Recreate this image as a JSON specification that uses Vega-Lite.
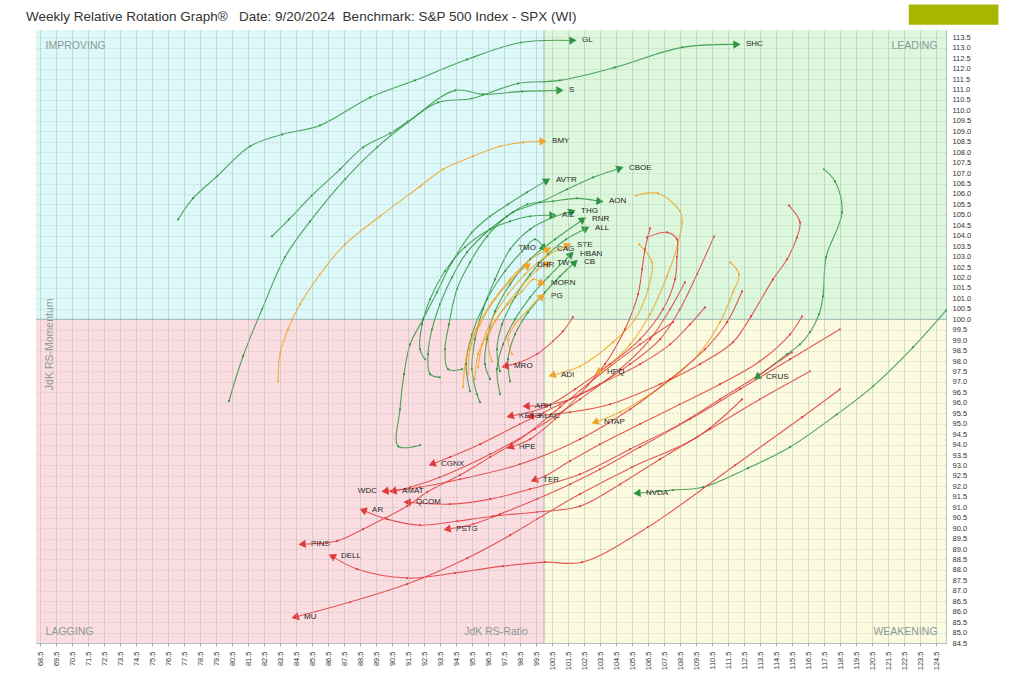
{
"$schema": "https://vega.github.io/schema/vega-lite/v6.json",
"width": 910, "height": 613,
"autosize": {"type": "none"},
"padding": {"left": 36, "top": 30, "right": 78, "bottom": 55},
"background": "white",
"title": {"text": "Weekly Relative Rotation Graph®\u00a0\u00a0\u00a0Date: 9/20/2024\u00a0\u00a0Benchmark: S&P 500 Index - SPX (WI)", "anchor": "start", "frame": "group", "dx": -10, "dy": 25, "offset": 6, "font": "Liberation Sans", "fontSize": 13.5, "fontWeight": "normal", "color": "#333333"},
"config": {"view": {"stroke": "#b3c4c0"}, "font": "Liberation Sans"},
"datasets": {"tr": [
{"s":"GL","c":"g","t":1,"x":77.13,"y":104.78},{"s":"GL","c":"g","t":2,"x":78.06,"y":105.79},{"s":"GL","c":"g","t":3,"x":79.56,"y":106.84},{"s":"GL","c":"g","t":4,"x":81.63,"y":108.28},{"s":"GL","c":"g","t":5,"x":83.63,"y":108.85},{"s":"GL","c":"g","t":6,"x":86.0,"y":109.28},{"s":"GL","c":"g","t":7,"x":89.13,"y":110.62},{"s":"GL","c":"g","t":8,"x":91.94,"y":111.44},{"s":"GL","c":"g","t":9,"x":95.19,"y":112.44},{"s":"GL","c":"g","t":10,"x":98.56,"y":113.25},{"s":"GL","c":"g","t":11,"x":101.81,"y":113.35},
{"s":"SHC","c":"g","t":1,"x":83.0,"y":103.97},{"s":"SHC","c":"g","t":2,"x":84.06,"y":104.78},{"s":"SHC","c":"g","t":3,"x":85.5,"y":105.93},{"s":"SHC","c":"g","t":4,"x":87.25,"y":107.18},{"s":"SHC","c":"g","t":5,"x":88.69,"y":108.23},{"s":"SHC","c":"g","t":6,"x":90.38,"y":108.9},{"s":"SHC","c":"g","t":7,"x":91.5,"y":109.47},{"s":"SHC","c":"g","t":8,"x":93.38,"y":110.38},{"s":"SHC","c":"g","t":9,"x":95.5,"y":110.57},{"s":"SHC","c":"g","t":10,"x":98.38,"y":111.29},{"s":"SHC","c":"g","t":11,"x":101.0,"y":111.44},{"s":"SHC","c":"g","t":12,"x":104.44,"y":112.06},{"s":"SHC","c":"g","t":13,"x":108.63,"y":113.02},{"s":"SHC","c":"g","t":14,"x":112.06,"y":113.16},
{"s":"S","c":"g","t":1,"x":80.31,"y":96.08},{"s":"S","c":"g","t":2,"x":81.19,"y":98.23},{"s":"S","c":"g","t":3,"x":82.38,"y":100.48},{"s":"S","c":"g","t":4,"x":83.81,"y":102.97},{"s":"S","c":"g","t":5,"x":85.38,"y":104.69},{"s":"S","c":"g","t":6,"x":87.56,"y":106.7},{"s":"S","c":"g","t":7,"x":89.56,"y":108.23},{"s":"S","c":"g","t":8,"x":91.5,"y":109.43},{"s":"S","c":"g","t":9,"x":94.44,"y":110.96},{"s":"S","c":"g","t":10,"x":96.19,"y":110.77},{"s":"S","c":"g","t":11,"x":98.63,"y":110.91},{"s":"S","c":"g","t":12,"x":101.0,"y":110.96},
{"s":"BMY","c":"o","t":1,"x":83.38,"y":97.03},{"s":"BMY","c":"o","t":2,"x":83.5,"y":98.33},{"s":"BMY","c":"o","t":3,"x":84.0,"y":99.52},{"s":"BMY","c":"o","t":4,"x":84.75,"y":100.72},{"s":"BMY","c":"o","t":5,"x":86.0,"y":102.15},{"s":"BMY","c":"o","t":6,"x":87.56,"y":103.59},{"s":"BMY","c":"o","t":7,"x":89.75,"y":104.93},{"s":"BMY","c":"o","t":8,"x":92.25,"y":106.36},{"s":"BMY","c":"o","t":9,"x":93.69,"y":107.18},{"s":"BMY","c":"o","t":10,"x":95.56,"y":107.8},{"s":"BMY","c":"o","t":11,"x":97.25,"y":108.28},{"s":"BMY","c":"o","t":12,"x":98.69,"y":108.47},{"s":"BMY","c":"o","t":13,"x":99.94,"y":108.52},
{"s":"AVTR","c":"g","t":1,"x":92.25,"y":93.97},{"s":"AVTR","c":"g","t":2,"x":90.88,"y":93.92},{"s":"AVTR","c":"g","t":3,"x":91.0,"y":95.69},{"s":"AVTR","c":"g","t":4,"x":91.25,"y":97.37},{"s":"AVTR","c":"g","t":5,"x":91.63,"y":98.8},{"s":"AVTR","c":"g","t":6,"x":92.44,"y":100.0},{"s":"AVTR","c":"g","t":7,"x":93.31,"y":101.29},{"s":"AVTR","c":"g","t":8,"x":94.25,"y":102.73},{"s":"AVTR","c":"g","t":9,"x":95.5,"y":104.16},{"s":"AVTR","c":"g","t":10,"x":96.63,"y":104.93},{"s":"AVTR","c":"g","t":11,"x":97.75,"y":105.5},{"s":"AVTR","c":"g","t":12,"x":98.94,"y":106.08},{"s":"AVTR","c":"g","t":13,"x":100.19,"y":106.65},
{"s":"CBOE","c":"g","t":1,"x":93.5,"y":97.22},{"s":"CBOE","c":"g","t":2,"x":92.88,"y":97.37},{"s":"CBOE","c":"g","t":3,"x":92.75,"y":98.33},{"s":"CBOE","c":"g","t":4,"x":93.0,"y":99.52},{"s":"CBOE","c":"g","t":5,"x":93.5,"y":100.72},{"s":"CBOE","c":"g","t":6,"x":94.25,"y":102.01},{"s":"CBOE","c":"g","t":7,"x":95.19,"y":103.21},{"s":"CBOE","c":"g","t":8,"x":96.63,"y":104.31},{"s":"CBOE","c":"g","t":9,"x":98.06,"y":105.12},{"s":"CBOE","c":"g","t":10,"x":99.75,"y":105.6},{"s":"CBOE","c":"g","t":11,"x":101.44,"y":106.22},{"s":"CBOE","c":"g","t":12,"x":103.06,"y":106.79},{"s":"CBOE","c":"g","t":13,"x":104.75,"y":107.23},
{"s":"AON","c":"g","t":1,"x":94.88,"y":97.61},{"s":"AON","c":"g","t":2,"x":94.0,"y":97.61},{"s":"AON","c":"g","t":3,"x":93.81,"y":98.56},{"s":"AON","c":"g","t":4,"x":94.06,"y":99.76},{"s":"AON","c":"g","t":5,"x":94.56,"y":101.44},{"s":"AON","c":"g","t":6,"x":95.38,"y":102.73},{"s":"AON","c":"g","t":7,"x":96.44,"y":103.97},{"s":"AON","c":"g","t":8,"x":97.69,"y":104.93},{"s":"AON","c":"g","t":9,"x":98.94,"y":105.5},{"s":"AON","c":"g","t":10,"x":100.56,"y":105.65},{"s":"AON","c":"g","t":11,"x":102.06,"y":105.79},{"s":"AON","c":"g","t":12,"x":103.5,"y":105.65},
{"s":"THG","c":"g","t":1,"x":96.0,"y":96.03},{"s":"THG","c":"g","t":2,"x":95.81,"y":96.41},{"s":"THG","c":"g","t":3,"x":95.5,"y":97.61},{"s":"THG","c":"g","t":4,"x":95.69,"y":99.04},{"s":"THG","c":"g","t":5,"x":96.19,"y":100.48},{"s":"THG","c":"g","t":6,"x":96.94,"y":101.91},{"s":"THG","c":"g","t":7,"x":97.88,"y":103.35},{"s":"THG","c":"g","t":8,"x":99.13,"y":104.31},{"s":"THG","c":"g","t":9,"x":100.56,"y":104.88},{"s":"THG","c":"g","t":10,"x":101.75,"y":105.17},
{"s":"AIZ","c":"g","t":1,"x":92.56,"y":98.09},{"s":"AIZ","c":"g","t":2,"x":92.25,"y":98.56},{"s":"AIZ","c":"g","t":3,"x":92.38,"y":99.76},{"s":"AIZ","c":"g","t":4,"x":92.88,"y":100.96},{"s":"AIZ","c":"g","t":5,"x":93.81,"y":102.3},{"s":"AIZ","c":"g","t":6,"x":95.06,"y":103.45},{"s":"AIZ","c":"g","t":7,"x":96.63,"y":104.31},{"s":"AIZ","c":"g","t":8,"x":97.88,"y":104.69},{"s":"AIZ","c":"g","t":9,"x":99.13,"y":104.93},{"s":"AIZ","c":"g","t":10,"x":100.56,"y":104.98},
{"s":"RNR","c":"g","t":1,"x":96.63,"y":97.13},{"s":"RNR","c":"g","t":2,"x":96.31,"y":97.85},{"s":"RNR","c":"g","t":3,"x":96.44,"y":99.04},{"s":"RNR","c":"g","t":4,"x":96.94,"y":100.38},{"s":"RNR","c":"g","t":5,"x":97.88,"y":101.67},{"s":"RNR","c":"g","t":6,"x":99.13,"y":102.87},{"s":"RNR","c":"g","t":7,"x":100.69,"y":103.83},{"s":"RNR","c":"g","t":8,"x":102.44,"y":104.78},
{"s":"ALL","c":"g","t":1,"x":97.25,"y":97.51},{"s":"ALL","c":"g","t":2,"x":97.06,"y":98.56},{"s":"ALL","c":"g","t":3,"x":97.38,"y":99.76},{"s":"ALL","c":"g","t":4,"x":98.19,"y":101.05},{"s":"ALL","c":"g","t":5,"x":99.13,"y":102.15},{"s":"ALL","c":"g","t":6,"x":100.25,"y":103.11},{"s":"ALL","c":"g","t":7,"x":101.38,"y":103.83},{"s":"ALL","c":"g","t":8,"x":102.63,"y":104.35},
{"s":"TMO","c":"g","t":1,"x":95.38,"y":96.55},{"s":"TMO","c":"g","t":2,"x":95.13,"y":97.85},{"s":"TMO","c":"g","t":3,"x":95.5,"y":99.28},{"s":"TMO","c":"g","t":4,"x":96.44,"y":100.96},{"s":"TMO","c":"g","t":5,"x":97.56,"y":102.3},{"s":"TMO","c":"g","t":6,"x":98.63,"y":103.25},{"s":"TMO","c":"g","t":7,"x":99.44,"y":103.83},{"s":"TMO","c":"g","t":8,"x":100.0,"y":103.4},
{"s":"CAG","c":"o","t":1,"x":94.94,"y":96.75},{"s":"CAG","c":"o","t":2,"x":95.13,"y":98.09},{"s":"CAG","c":"o","t":3,"x":95.75,"y":99.52},{"s":"CAG","c":"o","t":4,"x":96.75,"y":100.81},{"s":"CAG","c":"o","t":5,"x":97.88,"y":101.91},{"s":"CAG","c":"o","t":6,"x":99.0,"y":102.78},{"s":"CAG","c":"o","t":7,"x":100.25,"y":103.35},
{"s":"STE","c":"o","t":1,"x":95.88,"y":97.7},{"s":"STE","c":"o","t":2,"x":96.13,"y":98.8},{"s":"STE","c":"o","t":3,"x":96.75,"y":100.0},{"s":"STE","c":"o","t":4,"x":97.75,"y":101.2},{"s":"STE","c":"o","t":5,"x":98.81,"y":102.15},{"s":"STE","c":"o","t":6,"x":100.06,"y":102.97},{"s":"STE","c":"o","t":7,"x":101.5,"y":103.55},
{"s":"HBAN","c":"g","t":1,"x":97.25,"y":96.41},{"s":"HBAN","c":"g","t":2,"x":97.06,"y":97.61},{"s":"HBAN","c":"g","t":3,"x":97.44,"y":98.8},{"s":"HBAN","c":"g","t":4,"x":98.19,"y":100.0},{"s":"HBAN","c":"g","t":5,"x":99.13,"y":101.05},{"s":"HBAN","c":"g","t":6,"x":100.25,"y":102.01},{"s":"HBAN","c":"g","t":7,"x":101.69,"y":103.11},
{"s":"CB","c":"g","t":1,"x":97.88,"y":97.03},{"s":"CB","c":"g","t":2,"x":97.75,"y":98.09},{"s":"CB","c":"g","t":3,"x":98.19,"y":99.28},{"s":"CB","c":"g","t":4,"x":99.0,"y":100.33},{"s":"CB","c":"g","t":5,"x":100.06,"y":101.29},{"s":"CB","c":"g","t":6,"x":101.0,"y":102.06},{"s":"CB","c":"g","t":7,"x":101.94,"y":102.73},
{"s":"TW","c":"o","t":1,"x":95.69,"y":97.13},{"s":"TW","c":"o","t":2,"x":95.88,"y":98.33},{"s":"TW","c":"o","t":3,"x":96.63,"y":99.52},{"s":"TW","c":"o","t":4,"x":97.69,"y":100.72},{"s":"TW","c":"o","t":5,"x":98.69,"y":101.67},{"s":"TW","c":"o","t":6,"x":99.56,"y":102.34},{"s":"TW","c":"o","t":7,"x":100.25,"y":102.68},
{"s":"DHR","c":"o","t":1,"x":95.25,"y":97.37},{"s":"DHR","c":"o","t":2,"x":95.38,"y":98.56},{"s":"DHR","c":"o","t":3,"x":96.0,"y":99.76},{"s":"DHR","c":"o","t":4,"x":96.94,"y":100.96},{"s":"DHR","c":"o","t":5,"x":97.88,"y":101.82},{"s":"DHR","c":"o","t":6,"x":98.5,"y":102.3},{"s":"DHR","c":"o","t":7,"x":99.0,"y":102.58},
{"s":"MORN","c":"o","t":1,"x":96.75,"y":97.99},{"s":"MORN","c":"o","t":2,"x":96.5,"y":98.95},{"s":"MORN","c":"o","t":3,"x":96.94,"y":99.9},{"s":"MORN","c":"o","t":4,"x":97.75,"y":100.72},{"s":"MORN","c":"o","t":5,"x":98.63,"y":101.34},{"s":"MORN","c":"o","t":6,"x":99.31,"y":101.91},{"s":"MORN","c":"o","t":7,"x":99.88,"y":101.72},
{"s":"PG","c":"o","t":1,"x":98.0,"y":98.33},{"s":"PG","c":"o","t":2,"x":97.75,"y":99.04},{"s":"PG","c":"o","t":3,"x":98.19,"y":99.76},{"s":"PG","c":"o","t":4,"x":98.94,"y":100.38},{"s":"PG","c":"o","t":5,"x":99.44,"y":100.81},{"s":"PG","c":"o","t":6,"x":99.88,"y":101.1},
{"s":"NVDA","c":"g","t":1,"x":125.13,"y":100.43},{"s":"NVDA","c":"g","t":2,"x":123.06,"y":98.66},{"s":"NVDA","c":"g","t":3,"x":120.56,"y":96.79},{"s":"NVDA","c":"g","t":4,"x":118.31,"y":95.45},{"s":"NVDA","c":"g","t":5,"x":115.38,"y":93.88},{"s":"NVDA","c":"g","t":6,"x":112.75,"y":92.87},{"s":"NVDA","c":"g","t":7,"x":109.94,"y":91.96},{"s":"NVDA","c":"g","t":8,"x":108.06,"y":91.82},{"s":"NVDA","c":"g","t":9,"x":105.81,"y":91.67},
{"s":"CRUS","c":"g","t":1,"x":117.5,"y":107.18},{"s":"CRUS","c":"g","t":2,"x":118.19,"y":106.6},{"s":"CRUS","c":"g","t":3,"x":118.63,"y":105.12},{"s":"CRUS","c":"g","t":4,"x":117.63,"y":102.97},{"s":"CRUS","c":"g","t":5,"x":117.44,"y":101.1},{"s":"CRUS","c":"g","t":6,"x":117.19,"y":100.24},{"s":"CRUS","c":"g","t":7,"x":116.63,"y":99.38},{"s":"CRUS","c":"g","t":8,"x":116.0,"y":98.8},{"s":"CRUS","c":"g","t":9,"x":115.19,"y":98.33},{"s":"CRUS","c":"g","t":10,"x":113.31,"y":97.22},
{"s":"MRO","c":"r","t":1,"x":101.81,"y":100.1},{"s":"MRO","c":"r","t":2,"x":101.19,"y":99.43},{"s":"MRO","c":"r","t":3,"x":100.56,"y":98.95},{"s":"MRO","c":"r","t":4,"x":99.56,"y":98.33},{"s":"MRO","c":"r","t":5,"x":98.5,"y":97.94},{"s":"MRO","c":"r","t":6,"x":97.56,"y":97.75},
{"s":"ADI","c":"o","t":1,"x":105.94,"y":103.59},{"s":"ADI","c":"o","t":2,"x":106.75,"y":102.73},{"s":"ADI","c":"o","t":3,"x":106.5,"y":101.44},{"s":"ADI","c":"o","t":4,"x":105.69,"y":100.0},{"s":"ADI","c":"o","t":5,"x":104.31,"y":98.9},{"s":"ADI","c":"o","t":6,"x":102.25,"y":97.75},{"s":"ADI","c":"o","t":7,"x":100.5,"y":97.32},
{"s":"HPQ","c":"o","t":1,"x":105.75,"y":105.93},{"s":"HPQ","c":"o","t":2,"x":107.13,"y":106.03},{"s":"HPQ","c":"o","t":3,"x":108.5,"y":105.17},{"s":"HPQ","c":"o","t":4,"x":108.63,"y":104.64},{"s":"HPQ","c":"o","t":5,"x":108.31,"y":103.45},{"s":"HPQ","c":"o","t":6,"x":107.69,"y":102.06},{"s":"HPQ","c":"o","t":7,"x":106.63,"y":100.24},{"s":"HPQ","c":"o","t":8,"x":105.38,"y":98.8},{"s":"HPQ","c":"o","t":9,"x":104.25,"y":97.94},{"s":"HPQ","c":"o","t":10,"x":103.38,"y":97.46},
{"s":"NTAP","c":"o","t":1,"x":111.63,"y":102.73},{"s":"NTAP","c":"o","t":2,"x":112.19,"y":102.15},{"s":"NTAP","c":"o","t":3,"x":111.81,"y":101.29},{"s":"NTAP","c":"o","t":4,"x":111.0,"y":99.86},{"s":"NTAP","c":"o","t":5,"x":109.75,"y":98.42},{"s":"NTAP","c":"o","t":6,"x":108.5,"y":97.46},{"s":"NTAP","c":"o","t":7,"x":106.63,"y":96.41},{"s":"NTAP","c":"o","t":8,"x":104.75,"y":95.55},{"s":"NTAP","c":"o","t":9,"x":103.19,"y":95.07},
{"s":"APH","c":"r","t":1,"x":110.63,"y":103.97},{"s":"APH","c":"r","t":2,"x":109.56,"y":102.15},{"s":"APH","c":"r","t":3,"x":108.5,"y":100.48},{"s":"APH","c":"r","t":4,"x":107.25,"y":99.04},{"s":"APH","c":"r","t":5,"x":105.38,"y":97.85},{"s":"APH","c":"r","t":6,"x":103.5,"y":96.89},{"s":"APH","c":"r","t":7,"x":101.63,"y":96.17},{"s":"APH","c":"r","t":8,"x":100.06,"y":95.88},{"s":"APH","c":"r","t":9,"x":98.88,"y":95.84},
{"s":"KLAC","c":"r","t":1,"x":115.31,"y":105.45},{"s":"KLAC","c":"r","t":2,"x":116.0,"y":104.64},{"s":"KLAC","c":"r","t":3,"x":115.81,"y":103.92},{"s":"KLAC","c":"r","t":4,"x":115.19,"y":102.87},{"s":"KLAC","c":"r","t":5,"x":114.31,"y":101.91},{"s":"KLAC","c":"r","t":6,"x":112.94,"y":100.14},{"s":"KLAC","c":"r","t":7,"x":111.81,"y":98.9},{"s":"KLAC","c":"r","t":8,"x":109.75,"y":97.85},{"s":"KLAC","c":"r","t":9,"x":107.25,"y":96.89},{"s":"KLAC","c":"r","t":10,"x":104.13,"y":95.93},{"s":"KLAC","c":"r","t":11,"x":101.63,"y":95.55},{"s":"KLAC","c":"r","t":12,"x":99.13,"y":95.36},
{"s":"KEYS","c":"r","t":1,"x":106.44,"y":103.92},{"s":"KEYS","c":"r","t":2,"x":107.69,"y":104.16},{"s":"KEYS","c":"r","t":3,"x":108.31,"y":103.83},{"s":"KEYS","c":"r","t":4,"x":108.31,"y":102.97},{"s":"KEYS","c":"r","t":5,"x":108.19,"y":101.91},{"s":"KEYS","c":"r","t":6,"x":107.44,"y":100.48},{"s":"KEYS","c":"r","t":7,"x":106.0,"y":99.04},{"s":"KEYS","c":"r","t":8,"x":104.13,"y":97.85},{"s":"KEYS","c":"r","t":9,"x":101.94,"y":96.65},{"s":"KEYS","c":"r","t":10,"x":100.06,"y":95.79},{"s":"KEYS","c":"r","t":11,"x":97.88,"y":95.36},
{"s":"HPE","c":"r","t":1,"x":106.63,"y":104.35},{"s":"HPE","c":"r","t":2,"x":106.31,"y":103.35},{"s":"HPE","c":"r","t":3,"x":106.13,"y":102.39},{"s":"HPE","c":"r","t":4,"x":105.88,"y":101.2},{"s":"HPE","c":"r","t":5,"x":105.06,"y":99.52},{"s":"HPE","c":"r","t":6,"x":103.81,"y":97.85},{"s":"HPE","c":"r","t":7,"x":102.25,"y":96.41},{"s":"HPE","c":"r","t":8,"x":100.69,"y":95.22},{"s":"HPE","c":"r","t":9,"x":99.13,"y":94.26},{"s":"HPE","c":"r","t":10,"x":97.88,"y":93.88},
{"s":"TER","c":"r","t":1,"x":116.13,"y":100.14},{"s":"TER","c":"r","t":2,"x":115.38,"y":99.28},{"s":"TER","c":"r","t":3,"x":113.5,"y":97.99},{"s":"TER","c":"r","t":4,"x":111.0,"y":96.89},{"s":"TER","c":"r","t":5,"x":108.5,"y":95.93},{"s":"TER","c":"r","t":6,"x":106.0,"y":94.98},{"s":"TER","c":"r","t":7,"x":103.5,"y":94.02},{"s":"TER","c":"r","t":8,"x":101.63,"y":93.21},{"s":"TER","c":"r","t":9,"x":100.06,"y":92.49},{"s":"TER","c":"r","t":10,"x":99.38,"y":92.3},
{"s":"CGNX","c":"r","t":1,"x":110.06,"y":100.57},{"s":"CGNX","c":"r","t":2,"x":109.13,"y":99.76},{"s":"CGNX","c":"r","t":3,"x":107.88,"y":98.8},{"s":"CGNX","c":"r","t":4,"x":106.0,"y":97.85},{"s":"CGNX","c":"r","t":5,"x":103.5,"y":96.89},{"s":"CGNX","c":"r","t":6,"x":101.0,"y":95.93},{"s":"CGNX","c":"r","t":7,"x":98.5,"y":94.98},{"s":"CGNX","c":"r","t":8,"x":96.0,"y":94.02},{"s":"CGNX","c":"r","t":9,"x":94.13,"y":93.4},{"s":"CGNX","c":"r","t":10,"x":93.0,"y":93.06},
{"s":"WDC","c":"r","t":1,"x":112.38,"y":101.34},{"s":"WDC","c":"r","t":2,"x":111.44,"y":99.86},{"s":"WDC","c":"r","t":3,"x":110.06,"y":98.56},{"s":"WDC","c":"r","t":4,"x":107.88,"y":97.13},{"s":"WDC","c":"r","t":5,"x":105.38,"y":95.69},{"s":"WDC","c":"r","t":6,"x":102.25,"y":94.26},{"s":"WDC","c":"r","t":7,"x":98.5,"y":93.06},{"s":"WDC","c":"r","t":8,"x":94.75,"y":92.34},{"s":"WDC","c":"r","t":9,"x":92.25,"y":91.96},{"s":"WDC","c":"r","t":10,"x":90.06,"y":91.77},
{"s":"AMAT","c":"r","t":1,"x":108.81,"y":101.77},{"s":"AMAT","c":"r","t":2,"x":107.88,"y":100.48},{"s":"AMAT","c":"r","t":3,"x":106.63,"y":99.04},{"s":"AMAT","c":"r","t":4,"x":104.75,"y":97.61},{"s":"AMAT","c":"r","t":5,"x":102.25,"y":96.17},{"s":"AMAT","c":"r","t":6,"x":99.44,"y":94.74},{"s":"AMAT","c":"r","t":7,"x":96.63,"y":93.54},{"s":"AMAT","c":"r","t":8,"x":93.5,"y":92.44},{"s":"AMAT","c":"r","t":9,"x":91.63,"y":91.96},{"s":"AMAT","c":"r","t":10,"x":90.56,"y":91.77},
{"s":"QCOM","c":"r","t":1,"x":115.5,"y":98.42},{"s":"QCOM","c":"r","t":2,"x":113.5,"y":97.37},{"s":"QCOM","c":"r","t":3,"x":111.0,"y":96.17},{"s":"QCOM","c":"r","t":4,"x":108.5,"y":94.98},{"s":"QCOM","c":"r","t":5,"x":105.38,"y":93.78},{"s":"QCOM","c":"r","t":6,"x":102.25,"y":92.58},{"s":"QCOM","c":"r","t":7,"x":99.13,"y":91.87},{"s":"QCOM","c":"r","t":8,"x":96.63,"y":91.39},{"s":"QCOM","c":"r","t":9,"x":94.13,"y":91.15},{"s":"QCOM","c":"r","t":10,"x":91.44,"y":91.24},
{"s":"AR","c":"r","t":1,"x":116.63,"y":97.51},{"s":"AR","c":"r","t":2,"x":113.5,"y":96.17},{"s":"AR","c":"r","t":3,"x":110.38,"y":94.74},{"s":"AR","c":"r","t":4,"x":107.25,"y":93.3},{"s":"AR","c":"r","t":5,"x":104.75,"y":92.1},{"s":"AR","c":"r","t":6,"x":102.25,"y":91.05},{"s":"AR","c":"r","t":7,"x":99.56,"y":90.77},{"s":"AR","c":"r","t":8,"x":96.81,"y":90.57},{"s":"AR","c":"r","t":9,"x":94.56,"y":90.33},{"s":"AR","c":"r","t":10,"x":92.25,"y":90.14},{"s":"AR","c":"r","t":11,"x":90.19,"y":90.43},{"s":"AR","c":"r","t":12,"x":88.69,"y":90.86},
{"s":"PSTG","c":"r","t":1,"x":118.5,"y":99.52},{"s":"PSTG","c":"r","t":2,"x":115.38,"y":98.09},{"s":"PSTG","c":"r","t":3,"x":112.25,"y":96.65},{"s":"PSTG","c":"r","t":4,"x":109.13,"y":95.22},{"s":"PSTG","c":"r","t":5,"x":106.0,"y":93.88},{"s":"PSTG","c":"r","t":6,"x":103.5,"y":92.82},{"s":"PSTG","c":"r","t":7,"x":101.63,"y":92.1},{"s":"PSTG","c":"r","t":8,"x":99.56,"y":91.39},{"s":"PSTG","c":"r","t":9,"x":97.25,"y":90.67},{"s":"PSTG","c":"r","t":10,"x":95.56,"y":90.19},{"s":"PSTG","c":"r","t":11,"x":93.94,"y":89.95},
{"s":"PINS","c":"r","t":1,"x":108.06,"y":99.86},{"s":"PINS","c":"r","t":2,"x":106.0,"y":98.8},{"s":"PINS","c":"r","t":3,"x":103.5,"y":97.37},{"s":"PINS","c":"r","t":4,"x":101.0,"y":95.79},{"s":"PINS","c":"r","t":5,"x":98.5,"y":94.26},{"s":"PINS","c":"r","t":6,"x":96.63,"y":93.4},{"s":"PINS","c":"r","t":7,"x":94.75,"y":92.54},{"s":"PINS","c":"r","t":8,"x":92.69,"y":91.72},{"s":"PINS","c":"r","t":9,"x":91.44,"y":91.05},{"s":"PINS","c":"r","t":10,"x":90.06,"y":90.48},{"s":"PINS","c":"r","t":11,"x":88.69,"y":89.95},{"s":"PINS","c":"r","t":12,"x":87.06,"y":89.38},{"s":"PINS","c":"r","t":13,"x":84.88,"y":89.23},
{"s":"DELL","c":"r","t":1,"x":118.5,"y":96.65},{"s":"DELL","c":"r","t":2,"x":116.13,"y":95.31},{"s":"DELL","c":"r","t":3,"x":111.94,"y":93.01},{"s":"DELL","c":"r","t":4,"x":106.5,"y":90.05},{"s":"DELL","c":"r","t":5,"x":102.38,"y":88.37},{"s":"DELL","c":"r","t":6,"x":100.06,"y":88.37},{"s":"DELL","c":"r","t":7,"x":97.44,"y":88.18},{"s":"DELL","c":"r","t":8,"x":94.44,"y":87.85},{"s":"DELL","c":"r","t":9,"x":91.44,"y":87.61},{"s":"DELL","c":"r","t":10,"x":88.31,"y":88.04},{"s":"DELL","c":"r","t":11,"x":86.75,"y":88.66},
{"s":"MU","c":"r","t":1,"x":112.38,"y":96.17},{"s":"MU","c":"r","t":2,"x":109.56,"y":94.35},{"s":"MU","c":"r","t":3,"x":105.5,"y":92.92},{"s":"MU","c":"r","t":4,"x":102.25,"y":91.63},{"s":"MU","c":"r","t":5,"x":99.56,"y":90.43},{"s":"MU","c":"r","t":6,"x":97.88,"y":89.66},{"s":"MU","c":"r","t":7,"x":95.19,"y":88.56},{"s":"MU","c":"r","t":8,"x":91.44,"y":87.32},{"s":"MU","c":"r","t":9,"x":87.88,"y":86.46},{"s":"MU","c":"r","t":10,"x":84.44,"y":85.74}
]},
"layer": [
  {"data": {"values": [{"k": 1}]}, "mark": {"type": "rect", "color": "#dcf8f8"}, "encoding": {"x": {"datum": 68.25, "type": "quantitative", "scale": {"domain": [68.25, 125.125], "nice": false, "zero": false}}, "x2": {"datum": 100}, "y": {"datum": 100, "type": "quantitative", "scale": {"domain": [84.5, 113.85], "nice": false, "zero": false}}, "y2": {"datum": 113.85}}},
  {"data": {"values": [{"k": 1}]}, "mark": {"type": "rect", "color": "#dcf7dc"}, "encoding": {"x": {"datum": 100, "type": "quantitative"}, "x2": {"datum": 125.125}, "y": {"datum": 100, "type": "quantitative"}, "y2": {"datum": 113.85}}},
  {"data": {"values": [{"k": 1}]}, "mark": {"type": "rect", "color": "#fbdde1"}, "encoding": {"x": {"datum": 68.25, "type": "quantitative"}, "x2": {"datum": 100}, "y": {"datum": 84.5, "type": "quantitative"}, "y2": {"datum": 100}}},
  {"data": {"values": [{"k": 1}]}, "mark": {"type": "rect", "color": "#fcfadf"}, "encoding": {"x": {"datum": 100, "type": "quantitative"}, "x2": {"datum": 125.125}, "y": {"datum": 84.5, "type": "quantitative"}, "y2": {"datum": 100}}},
  {"data": {"values": [{"k": 1}]}, "mark": {"type": "rect", "color": "#a8b600", "clip": false}, "encoding": {"x": {"datum": 122.8, "type": "quantitative"}, "x2": {"datum": 128.4}, "y": {"datum": 114.1, "type": "quantitative"}, "y2": {"datum": 115.07}}},
  {"data": {"values": [{"k": 1}]}, "mark": {"type": "rule", "color": "#9fb5b0", "strokeWidth": 1}, "encoding": {"x": {"datum": 100, "type": "quantitative"}}},
  {"data": {"values": [{"k": 1}]}, "mark": {"type": "rule", "color": "#9fb5b0", "strokeWidth": 1}, "encoding": {"y": {"datum": 100, "type": "quantitative"}}},
  {"data": {"values": [{"k": 1}]}, "mark": {"type": "text", "text": "IMPROVING", "align": "left", "baseline": "middle", "fontSize": 10.5, "color": "#8a9898"}, "encoding": {"x": {"datum": 68.85, "type": "quantitative"}, "y": {"datum": 113.07, "type": "quantitative"}}},
  {"data": {"values": [{"k": 1}]}, "mark": {"type": "text", "text": "LEADING", "align": "right", "baseline": "middle", "fontSize": 10.5, "color": "#8a9898"}, "encoding": {"x": {"datum": 124.6, "type": "quantitative"}, "y": {"datum": 113.07, "type": "quantitative"}}},
  {"data": {"values": [{"k": 1}]}, "mark": {"type": "text", "text": "LAGGING", "align": "left", "baseline": "middle", "fontSize": 10.5, "color": "#8a9898"}, "encoding": {"x": {"datum": 68.85, "type": "quantitative"}, "y": {"datum": 85.02, "type": "quantitative"}}},
  {"data": {"values": [{"k": 1}]}, "mark": {"type": "text", "text": "WEAKENING", "align": "right", "baseline": "middle", "fontSize": 10.5, "color": "#8a9898"}, "encoding": {"x": {"datum": 124.6, "type": "quantitative"}, "y": {"datum": 85.02, "type": "quantitative"}}},
  {"data": {"values": [{"k": 1}]}, "mark": {"type": "text", "text": "JdK RS-Ratio", "align": "center", "baseline": "middle", "fontSize": 10.5, "color": "#8a9898"}, "encoding": {"x": {"datum": 97.0, "type": "quantitative"}, "y": {"datum": 85.02, "type": "quantitative"}}},
  {"data": {"values": [{"k": 1}]}, "mark": {"type": "text", "text": "JdK RS-Momentum", "align": "center", "baseline": "middle", "angle": 270, "fontSize": 10.5, "color": "#8a9898"}, "encoding": {"x": {"datum": 69.1, "type": "quantitative"}, "y": {"datum": 98.8, "type": "quantitative"}}},
  {"data": {"name": "tr"}, "mark": {"type": "line", "interpolate": "catmull-rom", "strokeWidth": 1.1, "opacity": 0.85},
   "encoding": {
     "x": {"field": "x", "type": "quantitative",
        "axis": {"title": null, "tickCount": 500, "values": [68.5,69.5,70.5,71.5,72.5,73.5,74.5,75.5,76.5,77.5,78.5,79.5,80.5,81.5,82.5,83.5,84.5,85.5,86.5,87.5,88.5,89.5,90.5,91.5,92.5,93.5,94.5,95.5,96.5,97.5,98.5,99.5,100.5,101.5,102.5,103.5,104.5,105.5,106.5,107.5,108.5,109.5,110.5,111.5,112.5,113.5,114.5,115.5,116.5,117.5,118.5,119.5,120.5,121.5,122.5,123.5,124.5],
                 "format": ".1f", "labelAngle": 270, "labelFontSize": 7.5, "labelColor": "#333333", "labelPadding": 5, "labelOverlap": false, "labelFlush": false,
                 "grid": true, "gridColor": "#9fb5b0", "gridOpacity": 0.55, "gridWidth": 0.8, "domain": false, "tickSize": 3, "tickColor": "#aaaaaa", "zindex": 1}},
     "y": {"field": "y", "type": "quantitative",
        "axis": {"title": null, "orient": "right", "tickCount": 500, "values": [84.5,85,85.5,86,86.5,87,87.5,88,88.5,89,89.5,90,90.5,91,91.5,92,92.5,93,93.5,94,94.5,95,95.5,96,96.5,97,97.5,98,98.5,99,99.5,100,100.5,101,101.5,102,102.5,103,103.5,104,104.5,105,105.5,106,106.5,107,107.5,108,108.5,109,109.5,110,110.5,111,111.5,112,112.5,113,113.5],
                 "format": ".1f", "labelFontSize": 7.5, "labelColor": "#333333", "labelPadding": 6, "labelOverlap": false, "labelFlush": false,
                 "grid": true, "gridColor": "#9fb5b0", "gridOpacity": 0.55, "gridWidth": 0.8, "gridDash": [2, 2], "domain": false, "ticks": false, "zindex": 1}},
     "detail": {"field": "s"}, "order": {"field": "t"},
     "color": {"field": "c", "type": "nominal", "legend": null, "scale": {"domain": ["g", "o", "r"], "range": ["#2f9440", "#f2a526", "#e23a3a"]}}}},
  {"data": {"name": "tr"}, "transform": [{"joinaggregate": [{"op": "max", "field": "t", "as": "tmax"}], "groupby": ["s"]}, {"filter": "datum.t < datum.tmax"}],
   "mark": {"type": "point", "filled": true, "size": 5, "opacity": 0.9},
   "encoding": {"x": {"field": "x", "type": "quantitative"}, "y": {"field": "y", "type": "quantitative"}, "color": {"field": "c", "type": "nominal", "legend": null}}},
  {"data": {"name": "tr"}, "transform": [
     {"window": [{"op": "lag", "field": "x", "as": "px"}, {"op": "lag", "field": "y", "as": "py"}], "groupby": ["s"], "sort": [{"field": "t", "order": "ascending"}]},
     {"joinaggregate": [{"op": "max", "field": "t", "as": "tmax"}], "groupby": ["s"]},
     {"filter": "datum.t === datum.tmax"},
     {"calculate": "atan2((datum.x - datum.px) * 16, (datum.y - datum.py) * 20.89) * 180 / PI", "as": "ang"}],
   "mark": {"type": "point", "shape": "triangle-up", "filled": true, "size": 70, "opacity": 1},
   "encoding": {"x": {"field": "x", "type": "quantitative"}, "y": {"field": "y", "type": "quantitative"}, "color": {"field": "c", "type": "nominal", "legend": null}, "angle": {"field": "ang", "type": "quantitative", "scale": null}}},
  {"data": {"name": "tr"}, "transform": [{"joinaggregate": [{"op": "max", "field": "t", "as": "tmax"}], "groupby": ["s"]}, {"filter": "datum.t === datum.tmax && datum.s !== 'WDC' && datum.s !== 'TMO'"}],
   "mark": {"type": "text", "align": "left", "baseline": "middle", "dx": 9, "fontSize": 8, "color": "#222222"},
   "encoding": {"x": {"field": "x", "type": "quantitative"}, "y": {"field": "y", "type": "quantitative"}, "text": {"field": "s"}}},
  {"data": {"name": "tr"}, "transform": [{"joinaggregate": [{"op": "max", "field": "t", "as": "tmax"}], "groupby": ["s"]}, {"filter": "datum.t === datum.tmax && (datum.s === 'WDC' || datum.s === 'TMO')"}],
   "mark": {"type": "text", "align": "right", "baseline": "middle", "dx": -8, "fontSize": 8, "color": "#222222"},
   "encoding": {"x": {"field": "x", "type": "quantitative"}, "y": {"field": "y", "type": "quantitative"}, "text": {"field": "s"}}}
]
}
